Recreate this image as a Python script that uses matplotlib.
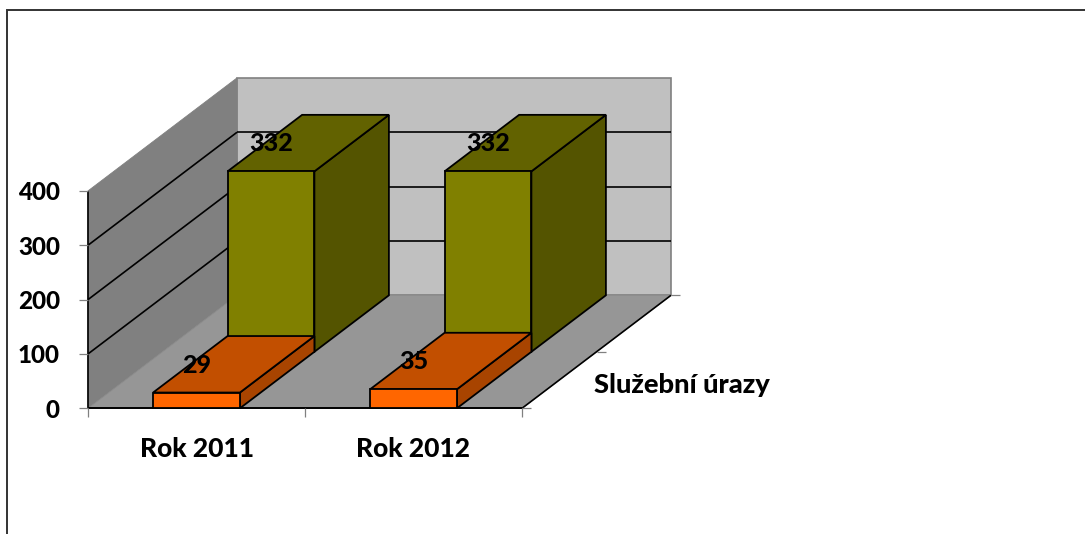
import matplotlib
matplotlib.use("Agg")
import matplotlib.pyplot as plt
from matplotlib.patches import Polygon

categories = ["Rok 2011", "Rok 2012"]
series_name = "Služební úrazy"
front_values = [29, 35]
back_values = [332, 332]
y_ticks = [0, 100, 200, 300, 400]

W, H = 1085, 534
ORIGIN_X, ORIGIN_Y = 88.0, 408.3
CAT_W = 217.0
PX_PER_UNIT = 217.4 / 400
DEPTH_X, DEPTH_Y = 149.0, -113.0
BAR_FRAC, GAP_FRAC = 0.4, 0.3
FONT = dict(fontweight=900, family=["Lato", "DejaVu Sans"])

fig = plt.figure(figsize=(W / 100, H / 100), dpi=100)
ax = fig.add_axes([0, 0, 1, 1])
ax.set_xlim(0, W)
ax.set_ylim(H, 0)
ax.axis("off")


def proj(cat, val, depth):
    """Oblique projection: category units, value units, depth 0..1 -> canvas."""
    return (ORIGIN_X + cat * CAT_W + depth * DEPTH_X,
            ORIGIN_Y - val * PX_PER_UNIT + depth * DEPTH_Y)


def poly(pts, fc, ec="none", lw=0.0, z=1):
    ax.add_patch(Polygon(pts, closed=True, facecolor=fc, edgecolor=ec, linewidth=lw,
                         joinstyle="miter", zorder=z))


def line(a, b, color="black", lw=1.2, z=2):
    ax.plot([a[0], b[0]], [a[1], b[1]], color=color, lw=lw, zorder=z, solid_capstyle="butt")


n = len(categories)
ymax = max(y_ticks)

# walls and floor
poly([proj(0, 0, 1), proj(n, 0, 1), proj(n, ymax, 1), proj(0, ymax, 1)], "#C0C0C0", "#808080", 1.2, 1)
poly([proj(0, 0, 0), proj(0, 0, 1), proj(0, ymax, 1), proj(0, ymax, 0)], "#808080", "#808080", 0.6, 1)
poly([proj(0, 0, 0), proj(n, 0, 0), proj(n, 0, 1), proj(0, 0, 1)], "#969696", "#8A8A8A", 0.6, 1)

# gridlines
for v in y_ticks[1:-1]:
    line(proj(0, v, 0), proj(0, v, 1), z=2)
    line(proj(0, v, 1), proj(n, v, 1), z=2)

# axes lines and ticks
line(proj(0, 0, 0), proj(0, ymax, 0), lw=1.2, z=2)
line(proj(0, 0, 0), proj(n, 0, 0), lw=1.4, z=2)
line(proj(n, 0, 0), proj(n, 0, 1), lw=1.2, z=2)
for v in y_ticks:
    x, y = proj(0, v, 0)
    line((x - 9, y), (x, y), color="#808080", lw=0.9)
    ax.text(x - 28, y + 2, str(v), ha="right", va="center", zorder=6, fontsize=17.5, **FONT)
for c in range(n + 1):
    x, y = proj(c, 0, 0)
    line((x, y), (x, y + 9), color="#808080", lw=0.9)
for d in (0, 0.5, 1):
    x, y = proj(n, 0, d)
    line((x, y), (x + 9, y), color="#808080", lw=0.9)


def bar(cat, val, d0, d1, front, top, side, z):
    c0 = cat + GAP_FRAC
    c1 = c0 + BAR_FRAC
    kw = dict(ec="black", lw=1.3, z=z)
    poly([proj(c1, 0, d0), proj(c1, 0, d1), proj(c1, val, d1), proj(c1, val, d0)], side, **kw)
    poly([proj(c0, val, d0), proj(c1, val, d0), proj(c1, val, d1), proj(c0, val, d1)], top, **kw)
    poly([proj(c0, 0, d0), proj(c1, 0, d0), proj(c1, val, d0), proj(c0, val, d0)], front, **kw)
    x, y = proj((c0 + c1) / 2, val, d0)
    ax.text(x, y - 27.5, str(val), ha="center", va="center", zorder=7, fontsize=18, **FONT)


for i, v in enumerate(back_values):
    bar(i, v, 0.5, 1.0, "#808000", "#626200", "#545400", 3)
for i, v in enumerate(front_values):
    bar(i, v, 0.0, 0.5, "#FF6600", "#C24F00", "#A84400", 4)

# axis labels
for i, name in enumerate(categories):
    x, y = proj(i + 0.5, 0, 0)
    ax.text(x, y + 41, name, ha="center", va="center", zorder=6, fontsize=19, **FONT)
x, y = proj(n, 0, 0.5)
ax.text(x - 2, y + 33, series_name, ha="left", va="center", zorder=6, fontsize=19.7, **FONT)

# outer frame clipped by the canvas
ax.plot([W + 5, 6.5, 6.5], [10, 10, H + 5], color="#333333", lw=1.4, zorder=8, clip_on=True,
        solid_joinstyle="miter")

fig.savefig("out.png", dpi=100, facecolor="white")
